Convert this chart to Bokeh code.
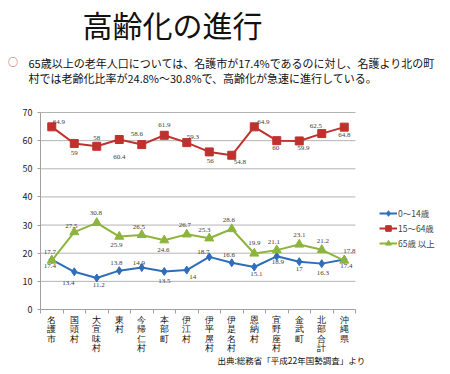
from bokeh.plotting import figure
from bokeh.models import (ColumnDataSource, LabelSet, Label, FixedTicker, Legend,
                          LegendItem, Range1d)
from bokeh.embed import file_html
from bokeh.resources import INLINE

# ---------------- data ----------------
categories = ["名護市", "国頭村", "大宜味村", "東村", "今帰仁村", "本部町", "伊江村",
              "伊平屋村", "伊是名村", "恩納村", "宜野座村", "金武町", "北部合計", "沖縄県"]
age_0_14 = [17.7, 13.4, 11.2, 13.8, 14.9, 13.5, 14.0, 18.7, 16.6, 15.1, 18.9, 17.0, 16.3, 17.8]
age_15_64 = [64.9, 59.0, 58.0, 60.4, 58.6, 61.9, 59.3, 56.0, 54.8, 64.9, 60.0, 59.9, 62.5, 64.8]
age_65_plus = [17.4, 27.5, 30.8, 25.9, 26.5, 24.6, 26.7, 25.3, 28.6, 19.9, 21.1, 23.1, 21.2, 17.4]
series_names = ["0〜14歳", "15〜64歳", "65歳 以上"]
y_ticks = [0, 10, 20, 30, 40, 50, 60, 70]

title_text = "高齢化の進行"
bullet_lines = ["65歳以上の老年人口については、名護市が17.4%であるのに対し、名護より北の町",
                "村では老齢化比率が24.8%〜30.8%で、高齢化が急速に進行している。"]
source_text = "出典:総務省「平成22年国勢調査」より"

# ---------------- styles (label placement, px) ----------------
dx_0_14 = [-2, -6, 2, -3, -3, 0, 6, -6, -3, 2, 1, 0, 1, 5]
dy_0_14 = [8, -11, -7, 8, 5, -9, -7, 5, 8, -7, -6, -7, -9, 8]
dx_15_64 = [7, 0, 0, 0, -5, 0, 6, 1, 8, 9, -1, 4, -6, 0]
dy_15_64 = [5, -10, 8, -17, 11, 10, 6, -9, -7, 5, -7, -7, 8, -8]
dx_65 = [-2, -3, -1, -3, -3, -1, -2, -5, -3, 0, -3, 0, 1, 2]
dy_65 = [-5, 6, 10, -8, 8, -10, 9, 8, 9, 10, 8, 9, 9, -5]

colors = ["#2F6DB8", "#C0312E", "#8DB53C"]
markers = ["diamond", "square", "triangle"]
marker_sizes = [8, 8, 9]

FONT = "Noto Sans CJK JP"

# ---------------- layout (figure pixels) ----------------
W, H = 442, 366
PL, PR, PT, PB = 40, 355, 112, 309   # plot-area edges inside the figure
N = len(categories)
YMAX = y_ticks[-1]
XU = (PR - PL) / N                   # px per category
YU = (PB - PT) / YMAX                # px per value unit


def xd(px):
    return (px - PL) / XU - 0.5


def yd(py):
    return (PB - py) / YU


p = figure(width=W, height=H, output_backend="svg", toolbar_location=None,
           x_range=Range1d(xd(0), xd(W)), y_range=Range1d(yd(H), yd(0)),
           min_border_left=0, min_border_right=0, min_border_top=0,
           min_border_bottom=0)
p.outline_line_color = None
p.background_fill_color = "white"
p.border_fill_color = "white"
p.xgrid.grid_line_color = None
p.ygrid.grid_line_color = None

# horizontal gridlines limited to the plot area
p.segment(x0=-0.5, x1=N - 0.5, y0=y_ticks[1:], y1=y_ticks[1:],
          line_color="#B4B4B4", line_width=1)

# y axis
p.yaxis.fixed_location = -0.5
p.yaxis.bounds = (0, YMAX)
p.yaxis.ticker = FixedTicker(ticks=y_ticks)
p.yaxis.axis_line_color = "#A0A0A0"
p.yaxis.major_tick_line_color = "#A0A0A0"
p.yaxis.major_tick_out = 3
p.yaxis.major_tick_in = 0
p.yaxis.minor_tick_line_color = None
p.yaxis.major_label_standoff = 5
p.yaxis.major_label_text_font = FONT
p.yaxis.major_label_text_font_size = "9px"
p.yaxis.major_label_text_color = "#222222"

# x axis (category separators as ticks)
p.xaxis.fixed_location = 0
p.xaxis.bounds = (-0.5, N - 0.5)
p.xaxis.ticker = FixedTicker(ticks=[], minor_ticks=[i - 0.5 for i in range(N + 1)])
p.xaxis.axis_line_color = "#A0A0A0"
p.xaxis.major_tick_line_color = None
p.xaxis.minor_tick_line_color = "#A0A0A0"
p.xaxis.minor_tick_out = 4
p.xaxis.minor_tick_in = 0
p.xaxis.major_label_text_font_size = "0px"

xs = list(range(N))
# vertical category labels
p.text(x=xs, y=[0] * N, text=["\n".join(c) for c in categories], y_offset=5,
       text_font=FONT, text_font_size="8.5px", text_align="center",
       text_baseline="top", text_line_height=0.95, text_color="#111111")

# series
series = [age_0_14, age_15_64, age_65_plus]
dxs = [dx_0_14, dx_15_64, dx_65]
dys = [dy_0_14, dy_15_64, dy_65]
items = []
for vals, name, col, mk, ms, dx, dy in zip(series, series_names, colors, markers,
                                           marker_sizes, dxs, dys):
    src = ColumnDataSource(dict(x=xs, y=vals, t=[f"{v:g}" for v in vals], dx=dx, dy=dy))
    ln = p.line("x", "y", source=src, line_color=col, line_width=2)
    sc = p.scatter("x", "y", source=src, marker=mk, size=ms, fill_color=col,
                   line_color=col)
    items.append(LegendItem(label=name, renderers=[ln, sc]))
    p.add_layout(LabelSet(x="x", y="y", text="t", source=src, x_offset="dx",
                          y_offset="dy", text_font=FONT, text_font_size="7px",
                          text_color="#404040", text_align="center",
                          text_baseline="middle"))

legend = Legend(items=items, location=(379, 116), glyph_width=18, glyph_height=14,
                label_height=14, spacing=1, padding=0, margin=0,
                border_line_color=None, background_fill_alpha=0,
                label_text_font=FONT, label_text_font_size="8.5px",
                label_standoff=1)
p.add_layout(legend)

# free texts
p.add_layout(Label(x=xd(172), y=yd(23), text=title_text, text_font=FONT,
                   text_font_size="30px", text_align="center",
                   text_baseline="middle", text_color="#111111"))
p.add_layout(Label(x=xd(12.5), y=yd(61), text="○", text_font=FONT,
                   text_font_size="10px", text_font_style="bold",
                   text_align="center", text_baseline="middle",
                   text_color="#C0504D"))
for i, line in enumerate(bullet_lines):
    p.add_layout(Label(x=xd(28), y=yd(62 + 15 * i), text=line, text_font=FONT,
                       text_font_size="11px", text_align="left",
                       text_baseline="middle", text_color="#111111"))
p.add_layout(Label(x=xd(217), y=yd(359), text=source_text, text_font=FONT,
                   text_font_size="8.5px", text_align="left",
                   text_baseline="middle", text_color="#111111"))

open("out.html", "w").write(file_html(p, INLINE))
